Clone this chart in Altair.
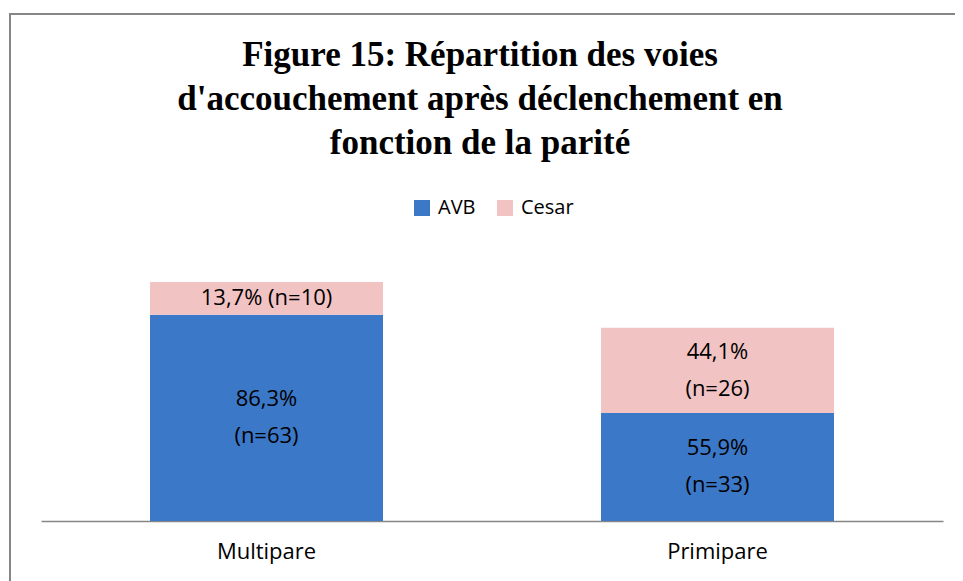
import altair as alt
import pandas as pd

categories = ["Multipare", "Primipare"]
series = ["AVB", "Cesar"]
avb_counts = [63, 33]
cesar_counts = [10, 26]
avb_pct = ["86,3%", "55,9%"]
cesar_pct = ["13,7%", "44,1%"]
cesar_two_lines = [False, True]  # label on one line when the segment is thin

title_lines = [
    "Figure 15: Répartition des voies",
    "d'accouchement après déclenchement en",
    "fonction de la parité",
]

rows = []
for i, c in enumerate(categories):
    a, s = avb_counts[i], cesar_counts[i]
    rows.append(dict(cat=c, serie="AVB", start=0, end=a, mid=a / 2, two=True,
                     label=f"{avb_pct[i]}\n(n={a})"))
    sep = "\n" if cesar_two_lines[i] else " "
    rows.append(dict(cat=c, serie="Cesar", start=a, end=a + s, mid=a + s / 2,
                     two=cesar_two_lines[i], label=f"{cesar_pct[i]}{sep}(n={s})"))
df = pd.DataFrame(rows)

FONT = "Open Sans"
LH = 37

x_enc = alt.X("cat:N", sort=categories, title=None,
              scale=alt.Scale(paddingInner=0, paddingOuter=0),
              axis=alt.Axis(labelAngle=0, ticks=False, labelFont=FONT,
                            labelFontSize=22, labelColor="#000000",
                            labelPadding=20, domainColor="#868686",
                            domainWidth=1.5, grid=False))
y_scale = alt.Scale(domain=[0, 80], nice=False)

bars = alt.Chart(df).mark_bar(size=233).encode(
    x=x_enc,
    y=alt.Y("start:Q", scale=y_scale, axis=None),
    y2="end:Q",
    color=alt.Color("serie:N", sort=series,
                    scale=alt.Scale(domain=series, range=["#3C78C8", "#F2C3C3"]),
                    legend=alt.Legend(title=None, orient="none", direction="horizontal",
                                      legendX=371, legendY=-61, symbolType="square",
                                      symbolSize=256, symbolStrokeWidth=0,
                                      labelFont=FONT, labelFontSize=20,
                                      labelColor="#000000", columnPadding=19,
                                      labelOffset=6, padding=0)),
)

def text_layer(two, dy):
    return alt.Chart(df).transform_filter(
        f"datum.two == {'true' if two else 'false'}"
    ).mark_text(font=FONT, fontSize=22, color="#000000", lineBreak="\n",
                lineHeight=LH, baseline="middle", align="center", dy=dy).encode(
        x=alt.X("cat:N", sort=categories),
        y=alt.Y("mid:Q", scale=y_scale),
        text="label:N",
    )

labels_two = text_layer(True, -LH / 2)
labels_one = text_layer(False, 0)

border = alt.Chart(df).mark_rect(fill=None, stroke="#868686", strokeWidth=2).encode(
    x=alt.value(-31), x2=alt.value(1000), y=alt.value(-245), y2=alt.value(500)
)

chart = alt.layer(border, bars, labels_two, labels_one).properties(
    width=902,
    height=262,
    padding={"left": 33, "top": 251, "right": 12, "bottom": 60},
    autosize=alt.AutoSizeParams(type="none"),
    title=alt.TitleParams(text=title_lines, font="Liberation Serif", fontSize=35,
                          fontWeight="bold", color="#000000", lineHeight=44,
                          anchor="middle", dx=-12, offset=0, dy=183,
                          baseline="bottom"),
).configure_view(stroke=None)

chart.save("out.html", embed_options={"renderer": "svg", "actions": False})
